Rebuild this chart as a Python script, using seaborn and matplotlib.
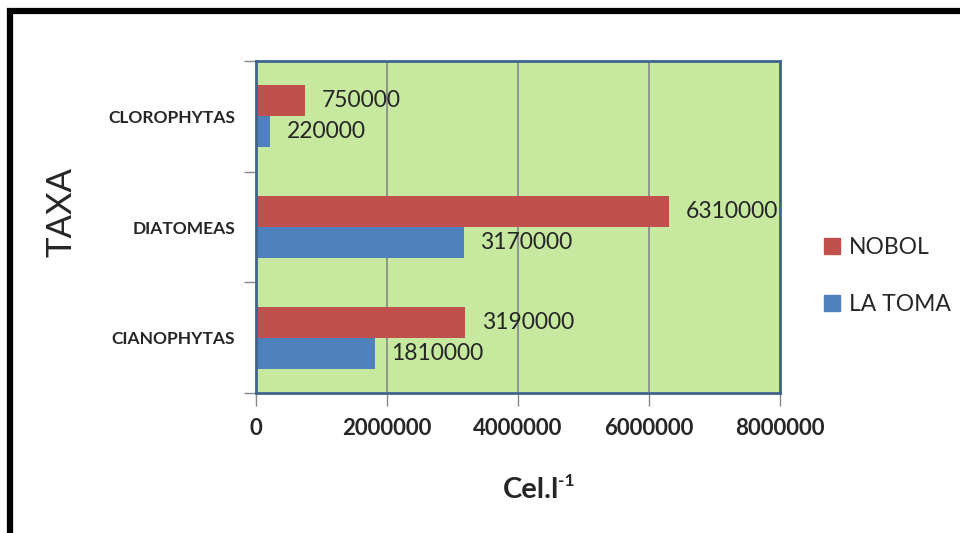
import matplotlib
matplotlib.use("Agg")
import matplotlib.pyplot as plt
import matplotlib.patches as mpatches
import numpy as np
import pandas as pd
import seaborn as sns

# data
taxa = ["CLOROPHYTAS", "DIATOMEAS", "CIANOPHYTAS"]
nobol = [750000, 6310000, 3190000]
la_toma = [220000, 3170000, 1810000]
sites = ["NOBOL", "LA TOMA"]
x_ticks = [0, 2000000, 4000000, 6000000, 8000000]

df = pd.DataFrame({
    "taxa": taxa * 2,
    "site": [sites[0]] * len(taxa) + [sites[1]] * len(taxa),
    "value": nobol + la_toma,
})

sns.set_style("white")
plt.rcParams["font.family"] = ["Lato", "DejaVu Sans"]

fig = plt.figure(figsize=(9.6, 5.33), dpi=100)
ax = fig.add_axes([256 / 960, 1 - 393 / 533, 524 / 960, 332 / 533])

palette = {"NOBOL": "#C0504D", "LA TOMA": "#4F81BD"}
sns.barplot(data=df, x="value", y="taxa", hue="site", order=taxa,
            hue_order=sites, palette=palette, width=0.56, orient="h",
            saturation=1, linewidth=0, ax=ax, legend=True)

ax.set_facecolor("#c6e89f")
ax.set_xlim(0, 8000000)
ax.set_ylim(2.5, -0.5)
ax.set_xticks(x_ticks)
ax.set_xticklabels([str(t) for t in x_ticks], fontsize=16, fontweight="bold")
ax.tick_params(axis="x", length=9, width=1, color="#888888", pad=9, direction="out",
               bottom=True)
ax.set_yticks(range(len(taxa)))
ax.set_yticklabels(taxa, fontsize=12.5, fontweight="bold")
ax.tick_params(axis="y", which="major", length=0, pad=15)
ax.set_yticks([-0.5, 0.5, 1.5, 2.5], minor=True)
ax.tick_params(axis="y", which="minor", length=9, width=1, color="#888888", left=True)
ax.grid(axis="x", color="#868686", lw=1.2)
ax.set_axisbelow(True)
for s in ax.spines.values():
    s.set_color("#41648f")
    s.set_linewidth(2)

for cont in ax.containers:
    ax.bar_label(cont, labels=[str(int(v)) for v in cont.datavalues],
                 padding=12, fontsize=16.5)

ax.set_xlabel("")
ax.set_ylabel("TAXA", fontsize=25)
ax.yaxis.set_label_coords((78 - 256) / 524, (393 - 212) / 332)

# x axis title with superscript
fig.text(559 / 960, 1 - 490 / 533, "Cel.l", fontsize=21, fontweight="bold",
         ha="right", va="center")
fig.text(558 / 960, 1 - 481 / 533, "-1", fontsize=12.5, fontweight="bold",
         ha="left", va="center")

handles = [mpatches.Patch(color=palette[s]) for s in sites]
ax.legend(handles, sites, loc="center left", bbox_to_anchor=(803 / 960, 1 - 276 / 533),
          bbox_transform=fig.transFigure, frameon=False, fontsize=16.5,
          handlelength=0.7, handleheight=0.7, handletextpad=0.4, labelspacing=1.6)

# black outer frame (right and bottom edges fall outside the picture)
fig.patches.append(mpatches.Rectangle((10 / 960, -0.1), 1.2, 1.1 - 11 / 533,
                                      transform=fig.transFigure, fill=False,
                                      edgecolor="black", linewidth=4.5))

fig.savefig("out.png", dpi=100)
